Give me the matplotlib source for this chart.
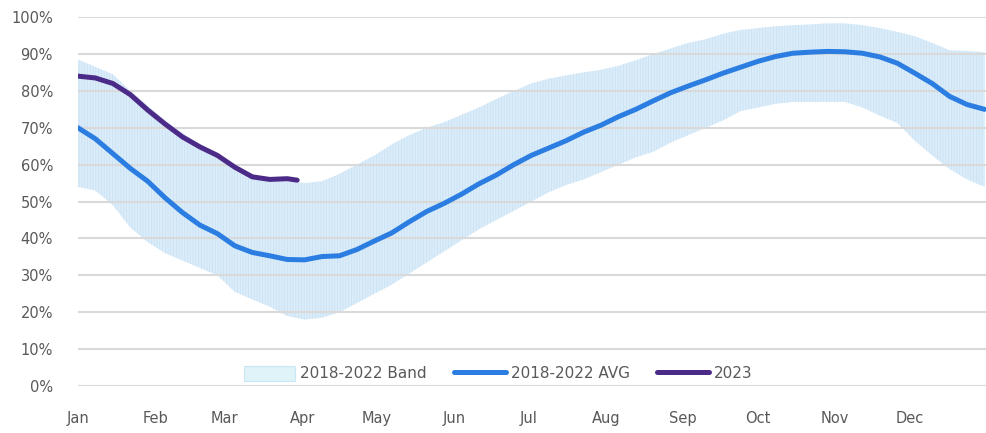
import numpy as np
import matplotlib
matplotlib.use("Agg")
from matplotlib import pyplot as plt
from matplotlib.patches import Patch
from matplotlib.lines import Line2D

# -------------------- Data --------------------
# weekly points, day of year
week_days = [7 * k for k in range(53)]

avg_vals = [70, 67, 63, 59, 55.5, 51, 47, 43.6, 41.3, 38, 36.2, 35.3, 34.3, 34.2,
            35.1, 35.3, 37, 39.3, 41.5, 44.5, 47.3, 49.5, 52, 54.8, 57.2, 60, 62.5,
            64.5, 66.5, 68.8, 70.7, 73, 75, 77.3, 79.5, 81.3, 83, 84.8, 86.4, 88, 89.3,
            90.2, 90.5, 90.7, 90.6, 90.2, 89.2, 87.5, 84.8, 82, 78.5, 76.3, 75]

band_upper = [88.5, 86.5, 84.5, 80, 76, 72, 68.5, 65.5, 63, 60, 57.3, 56, 55.5, 55,
              55.5, 57.5, 60, 62.5, 65.5, 68, 70, 71.5, 73.5, 75.5, 77.8, 80, 82,
              83.3, 84.2, 85, 85.7, 86.8, 88.3, 90, 91.5, 93, 94, 95.5, 96.5, 97, 97.5,
              97.8, 98, 98.3, 98.3, 97.8, 97, 96, 94.8, 93, 91, 90.8, 90.5]

band_lower = [54, 53, 49, 43, 39, 36, 34, 32, 30, 25.5, 23.5, 21.5, 19, 18,
              18.5, 20, 22.5, 25, 27.5, 30.5, 33.5, 36.5, 39.5, 42.5, 45, 47.5, 50,
              52.5, 54.5, 56, 58, 60, 62, 63.5, 66, 68, 70, 72, 74.5, 75.5, 76.5,
              77, 77, 77, 77, 75.5, 73.3, 71.3, 66.5, 62.5, 58.8, 56, 54]

y2023_days = [0, 7, 14, 21, 28, 35, 42, 49, 56, 63, 70, 77, 84, 88]
y2023_vals = [84, 83.5, 82, 79, 74.8, 71, 67.5, 64.8, 62.5, 59.3, 56.7, 56, 56.2, 55.8]

month_starts = [0, 31, 59, 90, 120, 151, 181, 212, 243, 273, 304, 334]
month_labels = ["Jan", "Feb", "Mar", "Apr", "May", "Jun",
                "Jul", "Aug", "Sep", "Oct", "Nov", "Dec"]

# -------------------- Plot --------------------
plt.rcParams["font.family"] = ["DejaVu Sans"]
plt.rcParams["hatch.linewidth"] = 0.6
text_color = "#595959"
avg_color = "#2b7de1"
purple = "#4b2a88"

fig = plt.figure(figsize=(9.87, 4.33), dpi=100)
ax = fig.add_axes([0.079, 0.1085, 0.921, 0.852])

ax.fill_between(week_days, band_lower, band_upper, facecolor="#dcedf9",
                edgecolor="#c8e2f5", hatch="||||||", linewidth=0, zorder=1)
ax.plot(week_days, avg_vals, color=avg_color, lw=3.6, zorder=3,
        solid_capstyle="round")
ax.plot(y2023_days, y2023_vals, color=purple, lw=3.6, zorder=4,
        solid_capstyle="round")

ax.set_xlim(0, 365)
ax.set_ylim(0, 100)
ax.set_yticks(np.arange(0, 101, 10))
ax.set_yticklabels([f"{v}%" for v in range(0, 101, 10)])
ax.set_xticks(month_starts)
ax.set_xticklabels(month_labels)
ax.tick_params(axis="both", length=0, labelsize=10.5, colors=text_color)
ax.tick_params(axis="y", pad=18)
ax.tick_params(axis="x", pad=18)

ax.set_axisbelow(False)
ax.yaxis.grid(True, color="#d9d9d9", lw=1.5, zorder=2)
ax.xaxis.grid(False)
for s in ax.spines.values():
    s.set_visible(False)

handles = [
    Patch(facecolor="#dff3f8", edgecolor="#c8e6f4", lw=0.8),
    Line2D([0], [0], color=avg_color, lw=3.6, solid_capstyle="round"),
    Line2D([0], [0], color=purple, lw=3.6, solid_capstyle="round"),
]
labels = ["2018-2022 Band", "2018-2022 AVG", "2023"]
leg = ax.legend(handles, labels, loc="lower center", bbox_to_anchor=(0.462, 0.0),
                ncol=3, frameon=False, fontsize=11, handlelength=3.4,
                handleheight=1.1, handletextpad=0.3, columnspacing=1.8,
                borderaxespad=0.0, borderpad=0.3)
for t in leg.get_texts():
    t.set_color(text_color)

fig.savefig("out.png", dpi=100)
